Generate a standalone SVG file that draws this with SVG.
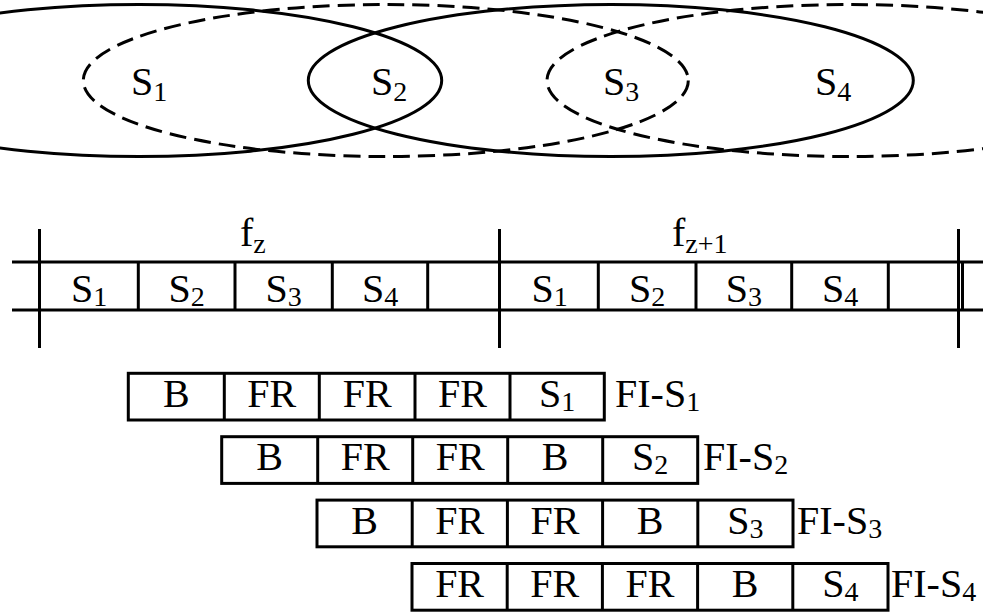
<svg xmlns="http://www.w3.org/2000/svg" width="983" height="615" viewBox="0 0 983 615">
<style>
.ln{fill:none;stroke:#000;stroke-width:3}
.ds{fill:none;stroke:#000;stroke-width:3;stroke-dasharray:17 8}
.t{font-family:"Liberation Serif","Times New Roman",serif;font-size:40px;fill:#000}
.c{text-anchor:middle}
.s{font-size:28px}
</style>
<rect width="983" height="615" fill="#fff"/>
<g id="coverage">
<ellipse id="range-a" class="ln" cx="139.2" cy="80.5" rx="302.5" ry="76"/>
<ellipse id="range-b" class="ln" cx="610.8" cy="80.5" rx="302.5" ry="76"/>
<ellipse id="range-c" class="ds" cx="385.8" cy="80.5" rx="302.5" ry="76"/>
<ellipse id="range-d" class="ds" cx="849.5" cy="80.5" rx="302.5" ry="76"/>
</g>
<g id="node-S1"><text class="t" x="131" y="95">S<tspan class="s" dy="6">1</tspan></text></g>
<g id="node-S2"><text class="t" x="371" y="95">S<tspan class="s" dy="6">2</tspan></text></g>
<g id="node-S3"><text class="t" x="603" y="95">S<tspan class="s" dy="6">3</tspan></text></g>
<g id="node-S4"><text class="t" x="815" y="95">S<tspan class="s" dy="6">4</tspan></text></g>
<g id="frames">
<line class="ln" x1="12" y1="262" x2="983" y2="262"/>
<line class="ln" x1="12" y1="310" x2="983" y2="310"/>
<line class="ln" x1="39.5" y1="229" x2="39.5" y2="348"/>
<line class="ln" x1="499.5" y1="229" x2="499.5" y2="348"/>
<line class="ln" x1="958.5" y1="229" x2="958.5" y2="348"/>
<line class="ln" x1="962.5" y1="262" x2="962.5" y2="310"/>
<line class="ln" x1="138.3" y1="262" x2="138.3" y2="310"/>
<line class="ln" x1="235" y1="262" x2="235" y2="310"/>
<line class="ln" x1="332.3" y1="262" x2="332.3" y2="310"/>
<line class="ln" x1="427.7" y1="262" x2="427.7" y2="310"/>
<line class="ln" x1="598.3" y1="262" x2="598.3" y2="310"/>
<line class="ln" x1="696" y1="262" x2="696" y2="310"/>
<line class="ln" x1="791.7" y1="262" x2="791.7" y2="310"/>
<line class="ln" x1="888.3" y1="262" x2="888.3" y2="310"/>
<text class="t" x="240" y="246">f<tspan class="s" dy="7">z</tspan></text>
<text class="t" x="672" y="246">f<tspan class="s" dy="7">z+1</tspan></text>
<text class="t c" x="89" y="302">S<tspan class="s" dy="4">1</tspan></text>
<text class="t c" x="186.6" y="302">S<tspan class="s" dy="4">2</tspan></text>
<text class="t c" x="283.6" y="302">S<tspan class="s" dy="4">3</tspan></text>
<text class="t c" x="380" y="302">S<tspan class="s" dy="4">4</tspan></text>
<text class="t c" x="549.5" y="302">S<tspan class="s" dy="4">1</tspan></text>
<text class="t c" x="647.1" y="302">S<tspan class="s" dy="4">2</tspan></text>
<text class="t c" x="743.8" y="302">S<tspan class="s" dy="4">3</tspan></text>
<text class="t c" x="840" y="302">S<tspan class="s" dy="4">4</tspan></text>
</g>
<g id="FI-S1">
<rect class="ln" x="128.3" y="373.3" width="476" height="46.7"/>
<line class="ln" x1="224.3" y1="373.3" x2="224.3" y2="420"/>
<line class="ln" x1="319.3" y1="373.3" x2="319.3" y2="420"/>
<line class="ln" x1="415" y1="373.3" x2="415" y2="420"/>
<line class="ln" x1="510" y1="373.3" x2="510" y2="420"/>
<text class="t c" x="176.3" y="407">B</text>
<text class="t c" x="271.8" y="407">FR</text>
<text class="t c" x="367.2" y="407">FR</text>
<text class="t c" x="462.5" y="407">FR</text>
<text class="t c" x="557.2" y="407">S<tspan class="s" dy="4">1</tspan></text>
<text class="t" x="615" y="407">FI-S<tspan class="s" dy="4">1</tspan></text>
</g>
<g id="FI-S2">
<rect class="ln" x="221.7" y="436.7" width="476" height="46.7"/>
<line class="ln" x1="317.7" y1="436.7" x2="317.7" y2="483.4"/>
<line class="ln" x1="412.7" y1="436.7" x2="412.7" y2="483.4"/>
<line class="ln" x1="507.7" y1="436.7" x2="507.7" y2="483.4"/>
<line class="ln" x1="602.7" y1="436.7" x2="602.7" y2="483.4"/>
<text class="t c" x="269.7" y="470.4">B</text>
<text class="t c" x="365.2" y="470.4">FR</text>
<text class="t c" x="460.2" y="470.4">FR</text>
<text class="t c" x="555.2" y="470.4">B</text>
<text class="t c" x="650.2" y="470.4">S<tspan class="s" dy="4">2</tspan></text>
<text class="t" x="703" y="470.4">FI-S<tspan class="s" dy="4">2</tspan></text>
</g>
<g id="FI-S3">
<rect class="ln" x="317" y="500.1" width="476" height="46.7"/>
<line class="ln" x1="412.2" y1="500.1" x2="412.2" y2="546.8"/>
<line class="ln" x1="507.4" y1="500.1" x2="507.4" y2="546.8"/>
<line class="ln" x1="602.6" y1="500.1" x2="602.6" y2="546.8"/>
<line class="ln" x1="697.8" y1="500.1" x2="697.8" y2="546.8"/>
<text class="t c" x="364.6" y="533.8">B</text>
<text class="t c" x="459.8" y="533.8">FR</text>
<text class="t c" x="555" y="533.8">FR</text>
<text class="t c" x="650.2" y="533.8">B</text>
<text class="t c" x="745.4" y="533.8">S<tspan class="s" dy="4">3</tspan></text>
<text class="t" x="797" y="533.8">FI-S<tspan class="s" dy="4">3</tspan></text>
</g>
<g id="FI-S4">
<rect class="ln" x="412" y="563.5" width="476" height="46.7"/>
<line class="ln" x1="507.2" y1="563.5" x2="507.2" y2="610.2"/>
<line class="ln" x1="602.4" y1="563.5" x2="602.4" y2="610.2"/>
<line class="ln" x1="697.6" y1="563.5" x2="697.6" y2="610.2"/>
<line class="ln" x1="792.8" y1="563.5" x2="792.8" y2="610.2"/>
<text class="t c" x="459.6" y="597.2">FR</text>
<text class="t c" x="554.8" y="597.2">FR</text>
<text class="t c" x="650" y="597.2">FR</text>
<text class="t c" x="745.2" y="597.2">B</text>
<text class="t c" x="840.4" y="597.2">S<tspan class="s" dy="4">4</tspan></text>
<text class="t" x="891" y="597.2">FI-S<tspan class="s" dy="4">4</tspan></text>
</g>
</svg>
